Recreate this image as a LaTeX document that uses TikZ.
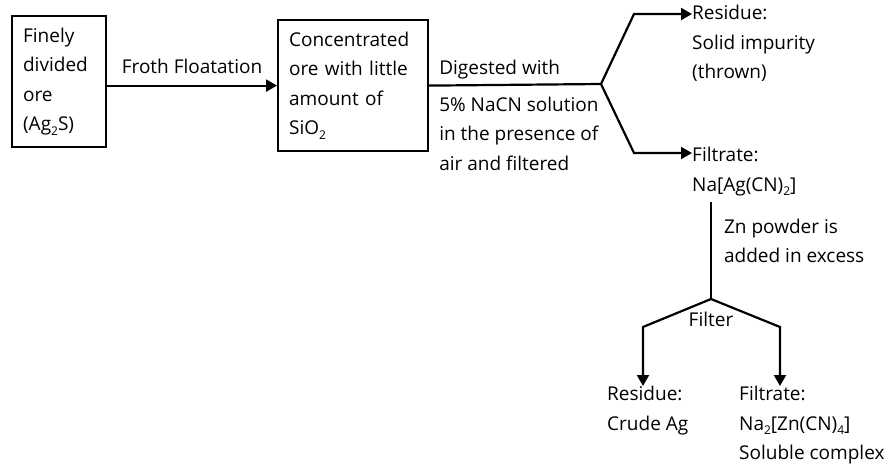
\documentclass[tikz,border=0pt]{standalone}
\usepackage{fontspec}
\setmainfont{Open Sans}
\usetikzlibrary{arrows,arrows.meta,positioning,calc}
\tikzstyle{block} = [draw, line width=2.2pt, rectangle, align=left, inner sep=11pt, minimum height=131pt, anchor=north west]
\tikzstyle{note} = [align=left, inner sep=0pt]
\tikzstyle{link} = [draw, line width=2.2pt]
\tikzstyle{arr} = [link, -{Triangle[length=11pt,width=12pt]}]
\newcommand{\chsub}[1]{\raisebox{-0.45ex}{\fontsize{12}{12}\selectfont #1}}

\begin{document}
\begin{tikzpicture}[x=1pt, y=-1pt, font=\fontsize{19}{29.5}\selectfont]
    \useasboundingbox (0,0) rectangle (889,466);
    % Boxes
    \node [block, text width=72pt] (ore) at (11,15) {Finely\\divided\\ore\\(Ag\chsub{2}S)};
    \node [block, text width=128pt] (conc) at (277,19) {Concentrated\\ore with little\\amount of\\SiO\chsub{2}};
    \coordinate (split) at (601,84);
    \coordinate (up) at (634,14);
    \coordinate (down) at (634,153);
    \node [note, anchor=north west] (residue) at (692,5) {Residue:\\Solid impurity\\(thrown)};
    \node [note, anchor=north west] (filtrate) at (692,147) {Filtrate:\\Na[Ag(CN)\chsub{2}]};
    \coordinate (zn) at (711,202);
    \coordinate (fork) at (711,299);
    \coordinate (forkl) at (643,327);
    \coordinate (forkr) at (780,327);
    \node [note, below=13pt of fork] (filter) {Filter};
    \node [note, anchor=north west] (crude) at (607,386) {Residue:\\Crude Ag};
    \node [note, anchor=north west] (soluble) at (739,386) {Filtrate:\\Na\chsub{2}[Zn(CN)\chsub{4}]\\Soluble complex};

    % Connections
    \draw [arr] (ore.east |- conc.west) -- node [note, above=11pt] {Froth Floatation} (conc.west);
    \draw [link] (conc.east) -- node [note, pos=0, anchor=south west, xshift=9pt, yshift=5pt] {Digested with}
        node [note, pos=0, anchor=north west, xshift=9pt, yshift=-10pt] {5\% NaCN solution\\in the presence of\\air and filtered} (split);
    \draw [arr] (split) -- (up) -- (up -| residue.west);
    \draw [arr] (split) -- (down) -- (down -| filtrate.west);
    \draw [link] (zn) -- node [note, pos=0.4, anchor=west, xshift=12pt] {Zn powder is\\added in excess} (fork);
    \draw [arr] (fork) -- (forkl) -- (crude.north -| forkl);
    \draw [arr] (fork) -- (forkr) -- (soluble.north -| forkr);
\end{tikzpicture}
\end{document}
